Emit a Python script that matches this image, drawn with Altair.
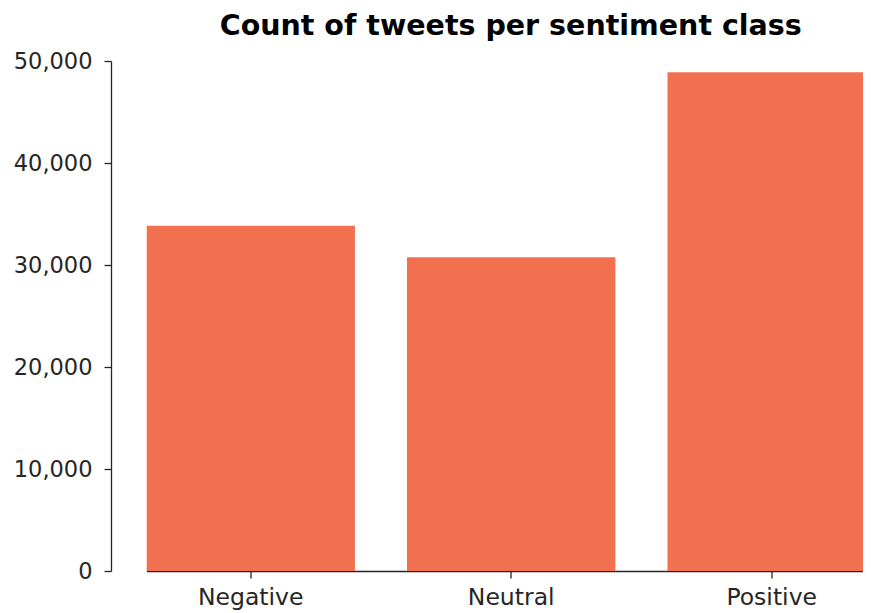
import altair as alt
import pandas as pd

categories = ["Negative", "Neutral", "Positive"]
counts = [33850, 30770, 48900]

df = pd.DataFrame({"sentiment": categories, "count": counts})

FONT = "DejaVu Sans"
AX = "#262626"

chart = alt.Chart(df).mark_bar(color="#F07050", clip=True).encode(
    x=alt.X("sentiment:N", sort=categories,
            scale=alt.Scale(range=[0, 729.4], paddingInner=0.2, paddingOuter=0),
            axis=alt.Axis(title=None, labelAngle=0, labelFont=FONT, labelFontSize=23.5,
                          labelColor=AX, domainColor=AX, tickColor=AX, tickSize=7,
                          domainWidth=1.3, tickWidth=1.3, labelPadding=7, grid=False)),
    y=alt.Y("count:Q", scale=alt.Scale(domain=[0, 50000], nice=False),
            axis=alt.Axis(title=None, values=[0, 10000, 20000, 30000, 40000, 50000],
                          format=",d", labelFont=FONT, labelFontSize=22.5, labelColor=AX,
                          domainColor=AX, tickColor=AX, tickSize=7, domainWidth=1.3,
                          tickWidth=1.3, labelPadding=12, offset=35.5, grid=False)),
).properties(
    width=716.5,
    height=510,
    title=alt.TitleParams("Count of tweets per sentiment class", font=FONT, fontSize=28.5,
                          fontWeight="bold", color="black", anchor="middle", dx=6, offset=10),
    autosize=alt.AutoSizeParams(type="none"),
    padding={"left": 138.5, "top": 53, "right": 0, "bottom": 40},
).configure_view(stroke=None)

chart.save("out.html", embed_options={"renderer": "svg", "actions": False})
